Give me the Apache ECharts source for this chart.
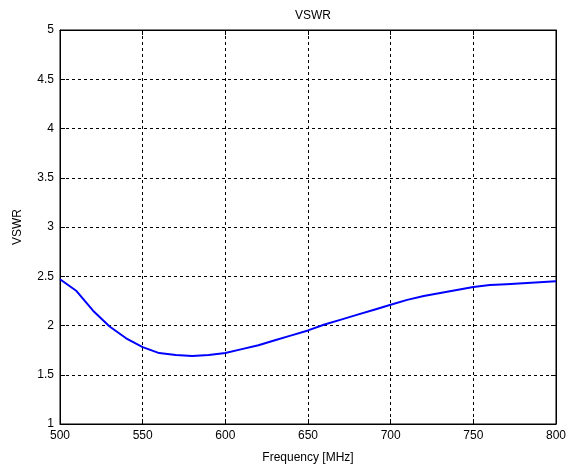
<!DOCTYPE html>
<html>
<head>
<meta charset="utf-8">
<script src="https://cdn.jsdelivr.net/npm/echarts@6/dist/echarts.min.js"></script>
<style>html,body{margin:0;padding:0;background:#fff;}#c{width:569px;height:470px;}</style>
</head>
<body>
<div id="c"></div>
<script>
const frequency = [500,510,520,530,540,550,560,570,580,590,600,610,620,630,640,650,660,670,680,690,700,710,720,730,740,750,760,770,780,790,800];
const vswr = [2.47,2.35,2.15,1.99,1.87,1.78,1.72,1.70,1.69,1.70,1.72,1.76,1.80,1.85,1.90,1.95,2.01,2.06,2.11,2.16,2.21,2.26,2.30,2.33,2.36,2.39,2.41,2.42,2.43,2.44,2.45];
const titleText = 'VSWR';
const xLabel = 'Frequency [MHz]';
const yLabel = 'VSWR';

const font = 'Liberation Sans, Arial, sans-serif';
const chart = echarts.init(document.getElementById('c'));
const dashed = {show:true, lineStyle:{color:'#000', type:[3,3], width:1}};
chart.setOption({
  animation:false,
  backgroundColor:'#fff',
  title:{text:titleText, left:308, top:5, textAlign:'center', textStyle:{fontFamily:font, fontSize:12, fontWeight:'normal', color:'#000'}},
  grid:{left:60, right:12, top:30, bottom:46, show:true, borderColor:'#000', borderWidth:1, backgroundColor:'transparent'},
  xAxis:[{
    type:'value', min:500, max:800, interval:50,
    name:xLabel, nameLocation:'middle', nameGap:28,
    nameTextStyle:{fontFamily:font, fontSize:12, color:'#000'},
    axisLine:{show:true, lineStyle:{color:'#000'}},
    axisTick:{show:true, inside:true, length:5, lineStyle:{color:'#000'}},
    axisLabel:{fontFamily:font, fontSize:12, color:'#000', margin:6},
    splitLine:dashed
  },{
    type:'value', min:500, max:800, interval:50, position:'top',
    axisLine:{show:true, lineStyle:{color:'#000'}},
    axisTick:{show:true, inside:true, length:5, lineStyle:{color:'#000'}},
    axisLabel:{show:false}, splitLine:{show:false}
  }],
  yAxis:[{
    type:'value', min:1, max:5, interval:0.5,
    name:yLabel, nameLocation:'middle', nameGap:36,
    nameTextStyle:{fontFamily:font, fontSize:12, color:'#000'},
    axisLine:{show:true, lineStyle:{color:'#000'}},
    axisTick:{show:true, inside:true, length:5, lineStyle:{color:'#000'}},
    axisLabel:{fontFamily:font, fontSize:12, color:'#000', margin:6},
    splitLine:dashed
  },{
    type:'value', min:1, max:5, interval:0.5, position:'right',
    axisLine:{show:true, lineStyle:{color:'#000'}},
    axisTick:{show:true, inside:true, length:5, lineStyle:{color:'#000'}},
    axisLabel:{show:false}, splitLine:{show:false}
  }],
  series:[{
    type:'line', xAxisIndex:0, yAxisIndex:0,
    data: frequency.map((f,i)=>[f, vswr[i]]),
    showSymbol:false, smooth:false,
    lineStyle:{color:'#0000ff', width:2}
  }]
});
</script>
</body>
</html>
